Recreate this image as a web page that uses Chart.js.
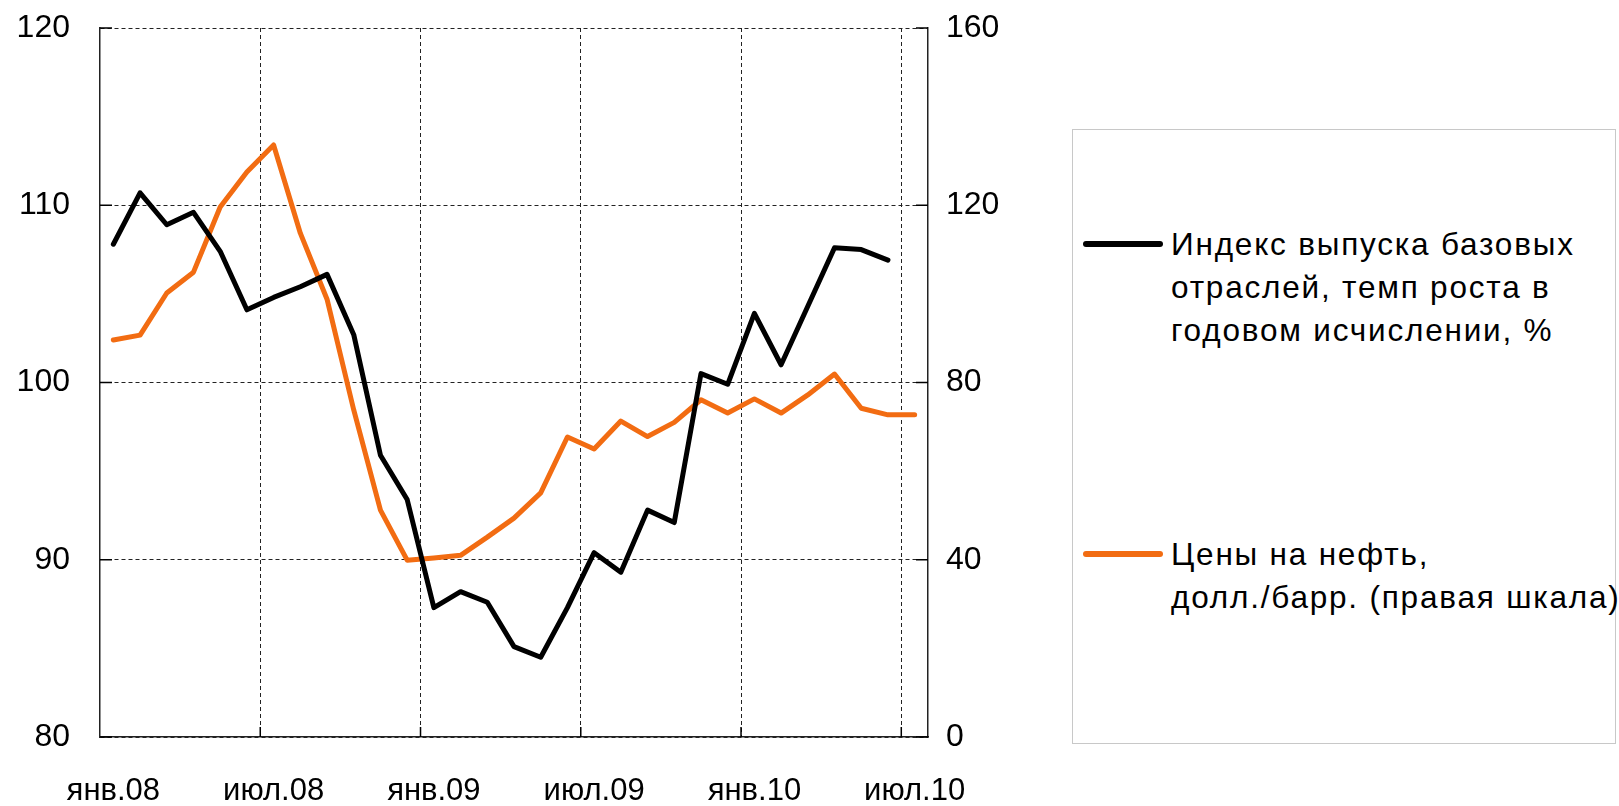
<!DOCTYPE html>
<html>
<head>
<meta charset="utf-8">
<script src="https://cdn.jsdelivr.net/npm/chart.js@4.4.1/dist/chart.umd.min.js"></script>
<style>
  html, body { margin: 0; padding: 0; background: #fff; }
  body { width: 1619px; height: 806px; position: relative; overflow: hidden; font-family: "Liberation Sans", Arial, sans-serif; }
  #wrap { position: absolute; left: 0; top: 0; width: 1000px; height: 806px; }
  #legend { position: absolute; left: 1072px; top: 129px; width: 544px; height: 615px; border: 1.5px solid #c8c8c8; box-sizing: border-box; }
  .item { position: absolute; left: 0; }
  .swatch { position: absolute; left: 10px; width: 80px; height: 6px; border-radius: 3px; }
  .txt { position: absolute; left: 98px; font-size: 31.5px; line-height: 43px; color: #000; white-space: nowrap; letter-spacing: 1.8px; }
</style>
</head>
<body>
<div id="wrap"><canvas id="chart"></canvas></div>
<div id="legend">
  <div class="item" style="top:0">
    <div class="swatch" style="top:111px;background:#000"></div>
    <div class="txt" style="top:93px">Индекс выпуска базовых<br>отраслей, темп роста в<br>годовом исчислении, %</div>
  </div>
  <div class="item" style="top:0">
    <div class="swatch" style="top:421px;background:#f26c12"></div>
    <div class="txt" style="top:403px">Цены на нефть,<br>долл./барр. (правая шкала)</div>
  </div>
</div>
<script>
// months Jan 2008 .. Jul 2010
const months = ['янв.08','фев.08','мар.08','апр.08','май.08','июн.08','июл.08','авг.08','сен.08','окт.08','ноя.08','дек.08',
  'янв.09','фев.09','мар.09','апр.09','май.09','июн.09','июл.09','авг.09','сен.09','окт.09','ноя.09','дек.09',
  'янв.10','фев.10','мар.10','апр.10','май.10','июн.10','июл.10'];

// index of core industries output, % y/y (left axis)
const coreIndex = [107.8, 110.7, 108.9, 109.6, 107.4, 104.1, 104.8, 105.4, 106.1, 102.7, 95.9, 93.4,
  87.3, 88.2, 87.6, 85.1, 84.5, 87.3, 90.4, 89.3, 92.8, 92.1, 100.5, 99.9,
  103.9, 101.0, 104.3, 107.6, 107.5, 106.9, null];

// oil price, USD/bbl (right axis)
const oilPrice = [89.6, 90.7, 100.2, 104.9, 119.6, 127.5, 133.6, 113.7, 98.8, 73.8, 51.2, 39.9,
  40.4, 41.0, 45.1, 49.4, 55.1, 67.7, 65.0, 71.3, 67.8, 71.0, 76.1, 73.1,
  76.3, 73.1, 77.2, 81.9, 74.2, 72.7, 72.7];

const leftTicks = [80, 90, 100, 110, 120];
const rightTicks = [0, 40, 80, 120, 160];

const xFont = { family: 'Liberation Sans', size: 31 };
const yFont = { family: 'Liberation Sans', size: 32 };

// small tick marks pointing into the plot
const innerTicks = {
  id: 'innerTicks',
  afterDraw(chart) {
    const { ctx, chartArea: a, scales } = chart;
    ctx.save();
    ctx.strokeStyle = '#000';
    ctx.lineWidth = 1.5;
    ctx.beginPath();
    scales.y.ticks.forEach(t => {
      const py = scales.y.getPixelForValue(t.value);
      ctx.moveTo(a.left, py); ctx.lineTo(a.left + 12, py);
    });
    scales.y2.ticks.forEach(t => {
      const py = scales.y2.getPixelForValue(t.value);
      ctx.moveTo(a.right, py); ctx.lineTo(a.right - 12, py);
    });
    months.forEach((m, i) => {
      if (i % 6 === 0 && i > 0) {
        const px = (scales.x.getPixelForTick(i) + scales.x.getPixelForTick(i - 1)) / 2;
        ctx.moveTo(px, a.bottom); ctx.lineTo(px, a.bottom - 10);
      }
    });
    ctx.stroke();
    ctx.restore();
  }
};

new Chart(document.getElementById('chart'), {
  type: 'line',
  data: {
    labels: months,
    datasets: [
      { label: 'Индекс выпуска базовых отраслей, темп роста в годовом исчислении, %', data: coreIndex, yAxisID: 'y',
        borderColor: '#000', borderWidth: 5, pointRadius: 0, tension: 0, borderJoinStyle: 'round', borderCapStyle: 'round' },
      { label: 'Цены на нефть, долл./барр. (правая шкала)', data: oilPrice, yAxisID: 'y2',
        borderColor: '#f26c12', borderWidth: 5, pointRadius: 0, tension: 0, borderJoinStyle: 'round', borderCapStyle: 'round' }
    ]
  },
  options: {
    responsive: true,
    maintainAspectRatio: false,
    animation: false,
    layout: { padding: { top: 28, left: 0, right: 0, bottom: 0 } },
    plugins: { legend: { display: false }, tooltip: { enabled: false } },
    scales: {
      x: {
        offset: true,
        grid: {
          offset: true,
          drawTicks: false,
          color: ctx => (ctx.index % 6 === 0 && ctx.index > 0 && ctx.index < months.length) ? '#222' : 'transparent',
          lineWidth: 1
        },
        border: { display: true, color: '#222', width: 1.5, dash: [4, 3] },
        ticks: {
          autoSkip: false, maxRotation: 0, padding: 36, color: '#000', font: xFont,
          callback: (v, i) => i % 6 === 0 ? months[i] : ''
        },
        afterFit: s => { s.height = 69; s.paddingLeft = 0; s.paddingRight = 0; }
      },
      y: {
        position: 'left', min: 80, max: 120,
        afterBuildTicks: s => { s.ticks = leftTicks.map(v => ({ value: v })); },
        grid: { drawTicks: false, color: '#222', lineWidth: 1 },
        border: { display: true, color: '#222', width: 1.5, dash: [4, 3] },
        ticks: { padding: 30, color: '#000', font: yFont },
        afterFit: s => { s.width = 100; s.paddingTop = 0; s.paddingBottom = 0; }
      },
      y2: {
        position: 'right', min: 0, max: 160,
        afterBuildTicks: s => { s.ticks = rightTicks.map(v => ({ value: v })); },
        grid: { drawOnChartArea: false, drawTicks: false },
        border: { display: true, color: '#222', width: 1.5 },
        ticks: { padding: 18, color: '#000', font: yFont },
        afterFit: s => { s.width = 72; s.paddingTop = 0; s.paddingBottom = 0; }
      }
    }
  },
  plugins: [innerTicks]
});
</script>
</body>
</html>
